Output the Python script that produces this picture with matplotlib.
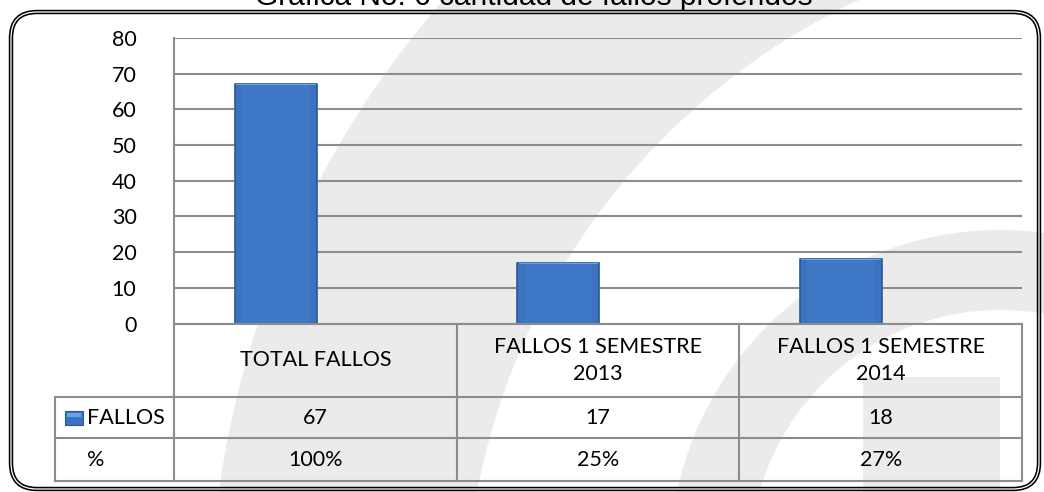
import numpy as np
import matplotlib
matplotlib.use('Agg')
import matplotlib.pyplot as plt
from matplotlib.patches import Wedge, Rectangle, FancyBboxPatch

# ---------------- data ----------------
title = "Gráfica No. 6 cantidad de fallos proferidos"
categories = ["TOTAL FALLOS", "FALLOS 1 SEMESTRE\n2013", "FALLOS 1 SEMESTRE\n2014"]
fallos = [67, 17, 18]
porcentaje = ["100%", "25%", "27%"]
series_names = ["FALLOS", "%"]
yticks = [0, 10, 20, 30, 40, 50, 60, 70, 80]

# ---------------- figure ----------------
W, H = 1044, 492
fig = plt.figure(figsize=(W / 100, H / 100), dpi=100)
fig.patch.set_facecolor('white')

FONT = ['Lato', 'DejaVu Sans']
FS = 15.5

def rect_px(x0, y0, x1, y1):
    return [x0 / W, 1 - y1 / H, (x1 - x0) / W, (y1 - y0) / H]

# background watermark
bg = fig.add_axes([0, 0, 1, 1], zorder=0)
bg.set_xlim(0, W); bg.set_ylim(H, 0); bg.axis('off')
gray = '#ebebeb'
bg.add_patch(Wedge((1150, 620), 940, 0, 360, width=255, facecolor=gray, edgecolor='none'))
bg.add_patch(Wedge((1000, 560), 330, 0, 360, width=80, facecolor=gray, edgecolor='none'))
bg.add_patch(Rectangle((863, 377), 137, 115, facecolor=gray, edgecolor='none'))

# main plot
PL, PR, PT, PB = 174, 1022, 38, 323.5
ax = fig.add_axes(rect_px(PL, PT, PR, PB), zorder=1)
ax.patch.set_alpha(0)
n = len(fallos)
x = np.arange(n)
off, bw = -0.14, 0.29
vals = np.array(fallos, dtype=float)
ax.set_xlim(-0.5, n - 0.5)
ax.set_ylim(yticks[0], yticks[-1])
ax.set_yticks(yticks)
ax.set_yticklabels([str(t) for t in yticks], fontsize=FS, family=FONT)
ax.tick_params(axis='y', length=0, pad=27)
ax.set_xticks([])
for s in ['top', 'right', 'bottom']:
    ax.spines[s].set_visible(False)
ax.spines['left'].set_color('#8c8c8c')
ax.spines['left'].set_linewidth(1.5)
ax.grid(axis='y', color='#8c8c8c', linewidth=1.5)
ax.set_axisbelow(True)

ax.bar(x + off, vals, width=bw, color='#3b73c0', edgecolor='#2b5896', linewidth=1.2, zorder=3)
bev = 0.22
ax.bar(x + off, np.full(n, bev), bottom=vals - bev, width=bw * 0.97, color='#6aa3e8',
       edgecolor='none', zorder=4)
ax.bar(x + off, vals - bev, width=bw * 0.82, color='#3e78c7', edgecolor='none', zorder=4)

# overlay: table, border, title
ov = fig.add_axes([0, 0, 1, 1], zorder=2)
ov.set_xlim(0, W); ov.set_ylim(H, 0); ov.axis('off')
ov.patch.set_alpha(0)

cw = (PR - PL) / n
def colx(xd):
    return PL + (xd + 0.5) * cw

lc, lw = '#8c8c8c', 1.5
ROW0, ROW1, ROW2, ROW3 = PB, 397, 438, 481
LBL = 55
ov.plot([PL, PR], [ROW0, ROW0], color=lc, lw=lw)
for yy in (ROW1, ROW2, ROW3):
    ov.plot([LBL, PR], [yy, yy], color=lc, lw=lw)
ov.plot([LBL, LBL], [ROW1, ROW3], color=lc, lw=lw)
ov.plot([PL, PL], [ROW0, ROW3], color=lc, lw=lw)
for i in range(n):
    xr = colx(i + 0.5)
    ov.plot([xr, xr], [ROW0, ROW3], color=lc, lw=lw)

for i in range(n):
    cx = colx(i)
    ov.text(cx, (ROW0 + ROW1) / 2, categories[i], ha='center', va='center',
            fontsize=FS, family=FONT, linespacing=1.45)
    ov.text(cx, (ROW1 + ROW2) / 2, str(fallos[i]), ha='center', va='center',
            fontsize=FS, family=FONT)
    ov.text(cx, (ROW2 + ROW3) / 2, porcentaje[i], ha='center', va='center',
            fontsize=FS, family=FONT)

# legend key and row labels
ov.add_patch(Rectangle((65, 411), 18, 14, facecolor='#3b73c0', edgecolor='#2b5896', lw=0.8))
ov.add_patch(Rectangle((67, 412.5), 14, 4, facecolor='#6aa3e8', edgecolor='none'))
ov.text(87, (ROW1 + ROW2) / 2, series_names[0], ha='left', va='center', fontsize=FS, family=FONT)
ov.text(87, (ROW2 + ROW3) / 2, series_names[1], ha='left', va='center', fontsize=FS, family=FONT)

# double rounded border
for col, w in (('black', 3.2), ('white', 0.9)):
    ov.add_patch(FancyBboxPatch((11, 12), 1028, 477,
                                boxstyle="round,pad=0,rounding_size=26",
                                facecolor='none', edgecolor=col, linewidth=w))

ov.text(534, 5, title, ha='center', va='baseline', fontsize=21.5,
        family=['Liberation Sans', 'DejaVu Sans'])

fig.savefig('out.png', dpi=100, facecolor='white')
